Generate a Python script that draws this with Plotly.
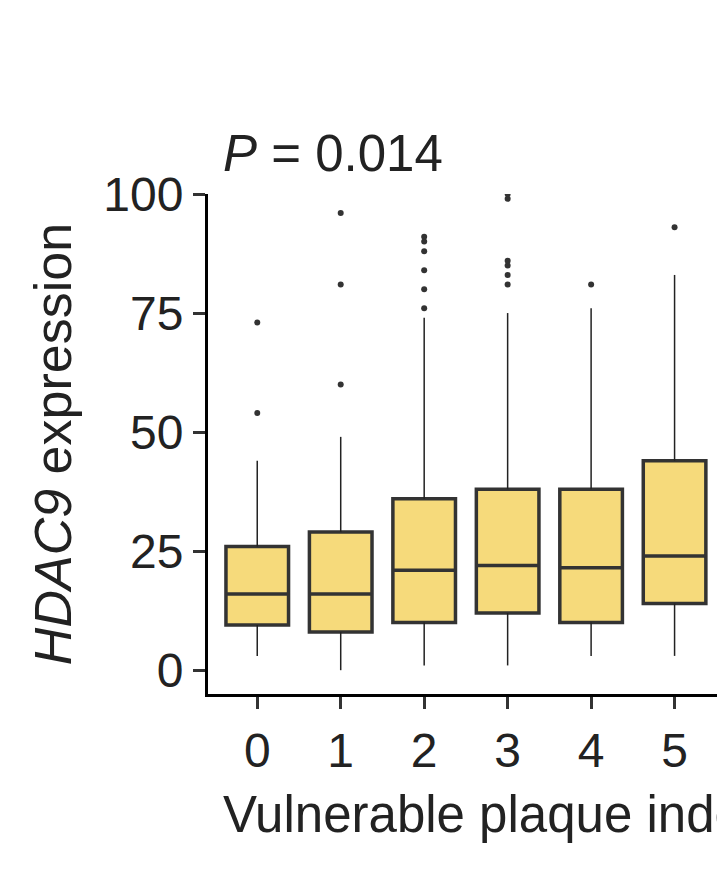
import plotly.graph_objects as go

cats = [0, 1, 2, 3, 4, 5]
q1 = [9.5, 8, 10, 12, 10, 14]
med = [16, 16, 21, 22, 21.5, 24]
q3 = [26, 29, 36, 38, 38, 44]
lo = [3, 0, 1, 1, 3, 3]
hi = [44, 49, 74, 75, 76, 83]
outliers = [[54, 73], [60, 81, 96], [76, 80, 84, 88, 90, 91],
            [81, 83, 85, 86, 99, 100], [81], [93]]

fig = go.Figure()
for c, l, a, b, h in zip(cats, lo, q1, q3, hi):
    fig.add_trace(go.Scatter(x=[c, c, None, c, c], y=[l, a, None, b, h], mode="lines",
                             line=dict(color="#222", width=1.5), showlegend=False, hoverinfo="skip"))
fig.add_trace(go.Box(x=cats, q1=q1, median=med, q3=q3, lowerfence=q1, upperfence=q3,
                     fillcolor="#F6DA7B", line=dict(color="#333333", width=3.5),
                     width=0.75, showlegend=False, boxpoints=False))
ox = [c for c, o in zip(cats, outliers) for _ in o]
oy = [v for o in outliers for v in o]
fig.add_trace(go.Scatter(x=ox, y=oy, mode="markers", marker=dict(color="#333", size=6),
                         showlegend=False))

font = dict(family="Liberation Sans, Arial", size=48, color="#222")
fig.update_layout(
    width=725, height=871, plot_bgcolor="white", paper_bgcolor="white",
    margin=dict(l=200, r=0, t=186, b=185, autoexpand=False), font=font,
    xaxis=dict(range=[-0.59, 5.7], tickvals=cats, showline=True, linecolor="black", linewidth=3,
               ticks="outside", ticklen=12, tickwidth=3, tickcolor="#333", showgrid=False,
               zeroline=False, automargin=False),
    yaxis=dict(range=[-5, 100], tickvals=[0, 25, 50, 75, 100], showline=True, linecolor="black",
               linewidth=3, ticks="outside", ticklen=12, tickwidth=3, tickcolor="#333",
               showgrid=False, zeroline=False, automargin=False),
    annotations=[
        dict(text="<i>P</i> = 0.014", xref="paper", yref="paper", x=(213-200)/525, y=1.02,
             xanchor="left", yanchor="bottom", showarrow=False, font=dict(size=51)),
        dict(text="Vulnerable plaque index", xref="paper", yref="paper", x=(213-200)/525,
             y=-0.18, xanchor="left", yanchor="top", showarrow=False, font=dict(size=51)),
        dict(text="<i>HDAC9</i> expression", xref="paper", yref="paper", x=-0.295, y=0.5,
             textangle=-90, xanchor="center", yanchor="middle", showarrow=False, font=dict(size=52)),
    ],
)
fig.write_html("out.html")
